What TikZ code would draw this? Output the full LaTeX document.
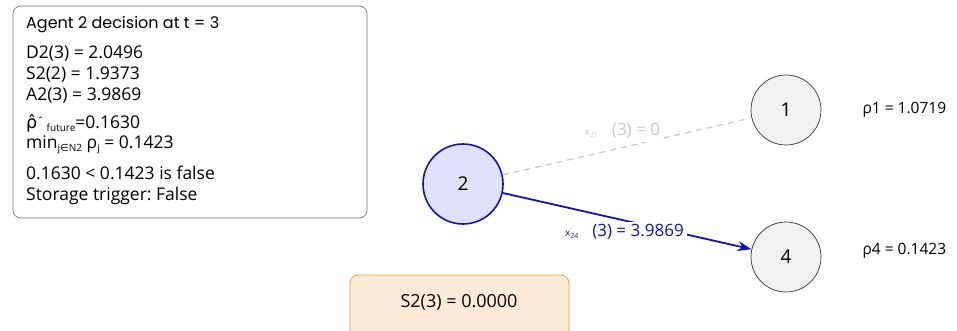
\documentclass[tikz,border=0pt]{standalone}
\usepackage{fontspec}
\setmainfont{Open Sans}
\newfontfamily\titlefont{Poppins}
\newfontfamily\symfont{DejaVu Sans}
\usetikzlibrary{arrows.meta, positioning}
\frenchspacing

\definecolor{flowblue}{HTML}{1010C0}
\definecolor{agentfill}{HTML}{E0E2FB}
\definecolor{peerfill}{HTML}{F1F1F1}
\definecolor{idlegray}{HTML}{C8C8C8}
\definecolor{storefill}{HTML}{FDEBD8}
\definecolor{storeline}{HTML}{E8963E}

\tikzset{
  agent/.style={circle, draw=flowblue, line width=1.6pt, fill=agentfill, minimum size=80pt, font=\fontsize{19}{19}\selectfont},
  peer/.style={circle, draw=black!80, line width=0.7pt, fill=peerfill, minimum size=70pt, font=\fontsize{19}{19}\selectfont},
  info/.style={anchor=west, inner sep=0pt, font=\fontsize{17.5}{18}\selectfont},
  small/.style={inner sep=0pt, font=\fontsize{10}{10}\selectfont}
}

\begin{document}
\begin{tikzpicture}[x=1pt, y=-1pt]
    \clip (0,0) rectangle (957,331);
    \useasboundingbox (0,0) rectangle (957,331);

    % Info box
    \draw[black!55, line width=0.7pt, rounded corners=8pt] (13,6) rectangle (367,218);
    \node[info, font=\titlefont\fontsize{16}{18}\selectfont] (title) at (26,25) {Agent 2 decision at t = 3};
    \node[info] (dline) at (26,54) {D2(3) = 2.0496};
    \node[info] (sline) at (26,75) {S2(2) = 1.9373};
    \node[info] (aline) at (26,96) {A2(3) = 3.9869};
    \node[info] (rline) at (26,123) {{\symfont ρ̂}\raisebox{3pt}{\fontsize{11}{11}\selectfont ˆ}\,\raisebox{-3pt}{\fontsize{10}{10}\selectfont future}=0.1630};
    \node[info] (mline) at (26,145) {min\raisebox{-3pt}{\fontsize{10}{10}\selectfont j{\symfont ∈}N2} ρ\raisebox{-3pt}{\fontsize{10}{10}\selectfont j} = 0.1423};
    \node[info] (cline) at (26,173) {0.1630 < 0.1423 is false};
    \node[info] (tline) at (26,196) {Storage trigger: False};

    % Agents
    \node[agent] (n2) at (463,184) {2};
    \node[peer] (n1) at (786,110) {1};
    \node[peer] (n4) at (786,257) {4};

    % Flows
    \draw[idlegray, line width=1.3pt, dash pattern=on 6pt off 5pt] (n2) -- (n1);
    \draw[flowblue, line width=1.8pt, -{Stealth[length=14pt, width=10pt]}] (n2) -- (n4);

    % Flow labels
    \node[fill=white, text=idlegray, inner sep=3pt, font=\fontsize{17}{18}\selectfont] (lab21) at (636,131) {(3) = 0};
    \node[small, text=idlegray, left=10pt of lab21.west, yshift=-3pt] (x21) {x\textsubscript{21}};
    \node[fill=white, text=flowblue, inner sep=3pt, font=\fontsize{17}{18}\selectfont] (lab24) at (638,232) {(3) = 3.9869};
    \node[small, text=flowblue, left=10pt of lab24.west, yshift=-3pt] (x24) {x\textsubscript{24}};

    % Prices
    \node[anchor=west, font=\fontsize{15.5}{18}\selectfont] (rho1) at (859,110) {ρ1 = 1.0719};
    \node[anchor=west, font=\fontsize{15.5}{18}\selectfont] (rho4) at (859,251) {ρ4 = 0.1423};

    % Storage
    \draw[storeline, fill=storefill, line width=0.8pt, rounded corners=8pt] (350,275) rectangle (569,345);
    \node[font=\fontsize{18}{18}\selectfont] (store) at (459,302) {S2(3) = 0.0000};
\end{tikzpicture}
\end{document}
